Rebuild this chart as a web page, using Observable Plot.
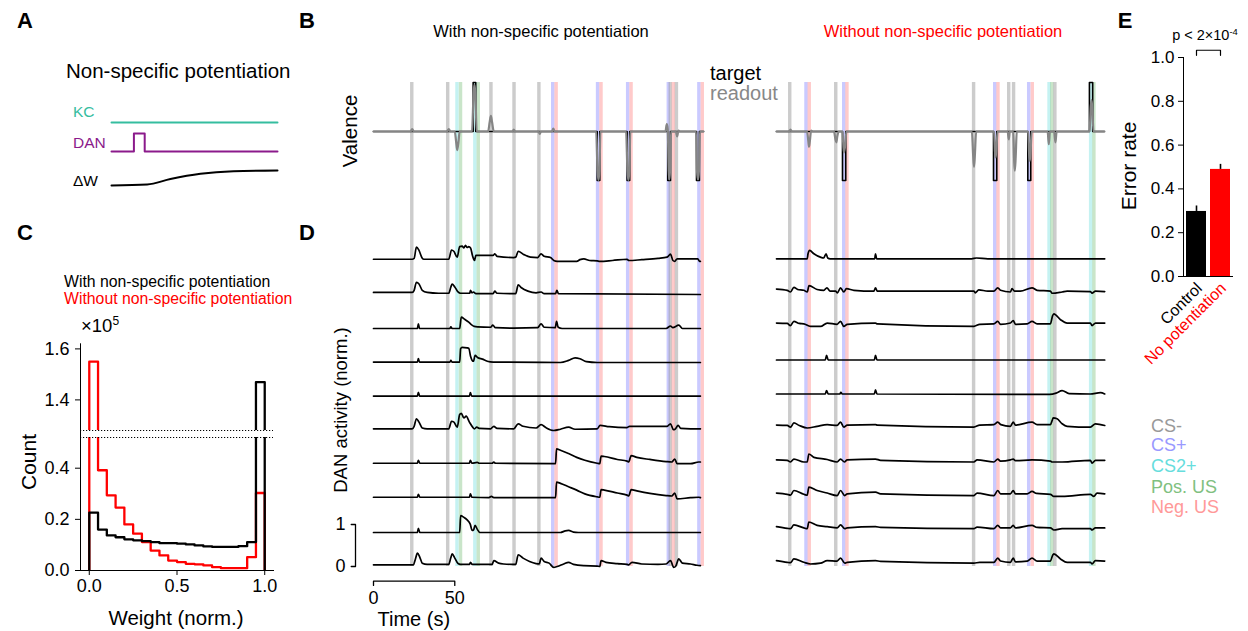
<!DOCTYPE html>
<html><head><meta charset="utf-8">
<script src="https://cdn.jsdelivr.net/npm/d3@7"></script>
<script src="https://cdn.jsdelivr.net/npm/@observablehq/plot@0.6"></script>
<style>
body{margin:0;background:#fff;}
#fig{position:relative;width:1248px;height:631px;overflow:hidden;background:#fff;font-family:"Liberation Sans",Arial,Helvetica,sans-serif;color:#000;}
.t{position:absolute;white-space:nowrap;line-height:1;}
.c{transform:translate(-50%,-50%);}
.l{transform:translate(0,-50%);}
.v{transform:translate(-50%,-50%) rotate(-90deg);}
sup{font-size:0.65em;vertical-align:0.55em;line-height:0;}
</style></head><body><div id="fig"></div><script>
// ---------------- DATA ----------------
// Panel A schematic (time 0..1, normalized)
const kcTrace = [[0,1],[1,1]];
const danTrace = [[0,0],[0.135,0],[0.135,1],[0.2,1],[0.2,0],[1,0]];
const dwTrace = [[0,0],[0.215,0.07],[0.355,0.43],[0.536,0.78],[0.735,0.95],[1,1]];

// Panel C histogram (counts x1e5), 20 bins of width 0.05
const binWidth = 0.05;
const countsWithout = [1.55,0.392,0.294,0.246,0.18,0.144,0.111,0.078,0.059,0.039,0.033,0.026,0.024,0.02,0.013,0.009,0.009,0.009,0.052,0.303];
const countsWith = [0.226,0.16,0.137,0.13,0.122,0.118,0.115,0.111,0.107,0.107,0.105,0.102,0.098,0.094,0.092,0.092,0.092,0.095,0.111,1.47];
const countTicksLow = [0,0.2,0.4];
const countTicksHigh = [1.4,1.6];
const weightTicks = [0,0.5,1];

// Panel E
const conditions = ["Control","No potentiation"];
const errorRates = [0.297,0.489];
const errorUpper = [0.322,0.512];
const errorTicks = [0,0.2,0.4,0.6,0.8,1.0];

// Stimuli [start time (s), type]
const stimDur = 2.1;
const stimLeft = [[22.8,"CS-"],[44.9,"CS-"],[50.6,"CS2+"],[52.8,"Pos. US"],[61.6,"CS2+"],[63.7,"Pos. US"],[71.5,"CS-"],[85.7,"CS-"],[101,"CS-"],[109.5,"CS+"],[111.6,"Neg. US"],[137.1,"CS+"],[139.2,"Neg. US"],[155.6,"CS+"],[157.7,"Neg. US"],[180.6,"CS+"],[181.8,"CS-"],[183.7,"Neg. US"],[185.6,"CS-"],[199.4,"CS+"],[201.5,"Neg. US"]];
const stimRight = [[7.4,"CS-"],[17.4,"CS+"],[19.4,"Neg. US"],[35.7,"CS-"],[40.6,"CS+"],[42.6,"Neg. US"],[120.5,"CS-"],[133.5,"CS+"],[135.5,"Neg. US"],[142.1,"CS-"],[145.1,"CS-"],[154.4,"CS+"],[156.6,"Neg. US"],[166.9,"CS2+"],[168.6,"Pos. US"],[170.5,"CS-"],[192.5,"CS2+"],[194.5,"Pos. US"]];
const stimTypes = ["CS-","CS+","CS2+","Pos. US","Neg. US"];

// Valence: target pulses [start, end, value]; readout keypoints [t, v]
const targetLeft = [[61.3,62.9,1],[137.6,139.2,-1],[156,157.6,-1],[181,182.7,-1],[198.7,200.5,-1]];
const targetRight = [[40.6,42.6,-1],[133.5,135.5,-1],[154.6,156.4,-1],[192.5,194.5,1]];
const readoutLeft = [[0,0],[22.8,0],[23.8,0.05],[24.8,0],[45.3,0],[46.3,0.05],[47.3,0],[50,0],[50.8,-0.2],[51.5,-0.38],[52.3,-0.2],[53,0],[60.6,0],[61.6,0.8],[62.1,0.95],[62.6,0.8],[63.5,0],[70.5,0],[71.5,0.2],[72.2,0.32],[72.9,0.2],[74,0],[85.5,0],[86.3,0.04],[87,0],[101.5,0],[102.3,-0.05],[103,0],[109.8,0],[110.6,0.06],[111.5,0],[137,0],[137.8,-0.8],[138.4,-0.99],[139,-0.8],[139.6,0],[155.4,0],[156.2,-0.8],[156.8,-0.99],[157.4,-0.8],[158,0],[179.6,0],[180.4,0.15],[181,0.05],[181.6,-0.8],[182,-0.98],[182.4,-0.8],[183,0],[186,0],[186.8,-0.1],[187.6,0.02],[188.4,0],[198.4,0],[199,-0.8],[199.6,-0.98],[200.2,-0.8],[200.8,0],[203,0]];
const readoutRight = [[0,0],[7.8,0],[8.6,0.04],[9.4,0],[18.8,0],[19.6,-0.2],[20,-0.31],[20.5,-0.2],[21.3,0.02],[22.5,0],[35.4,0],[36.2,-0.15],[36.8,-0.22],[37.4,-0.1],[38.2,0],[40.6,0],[41.4,-0.43],[42.2,-0.3],[43,0],[120.2,0],[121,-0.5],[121.5,-0.72],[122,-0.5],[122.8,0],[133.8,0],[134.4,-0.4],[134.8,-0.53],[135.3,-0.35],[136,0],[142.2,0],[142.9,-0.16],[143.5,0],[145.6,0],[146.2,-0.6],[146.6,-0.8],[147.1,-0.55],[147.8,0],[154.8,0],[155.4,-0.45],[155.8,-0.6],[156.3,-0.4],[157,0],[166.8,0],[167.5,-0.26],[168.2,0],[170.8,0],[171.6,-0.22],[172.3,0],[192.6,0],[193.3,0.5],[193.8,0.64],[194.3,0.45],[195,0],[201.7,0]];

// DAN activity traces (normalized), top to bottom, [t, v]
const danLeft0 = [[0,0.03],[23.8,0.03],[25,0.05],[26.4,0.32],[28,0.24],[29.9,0.06],[31,0.03],[46.3,0.03],[48,0.25],[49.4,0.22],[51.5,0.08],[53,0.33],[54.5,0.34],[55.6,0.3],[56.6,0.36],[57.6,0.31],[58.6,0.33],[59.7,0.3],[61,0.1],[62.1,0.0],[63,0.12],[64,0.12],[72,0.12],[73.6,0.12],[74.6,0.16],[76,0.1],[86.3,0.07],[87.5,0.08],[89,0.22],[92.5,0.14],[96.6,0.08],[101,0.07],[103.1,0.16],[105,0.1],[108.9,0.07],[110.9,0.0],[113,-0.02],[125,-0.02],[127,0.02],[129.4,0.04],[133,0.0],[137.6,-0.01],[139.2,-0.02],[147,0.0],[156,0.03],[157,0.0],[165,0.02],[175,0.05],[180.6,0.08],[182.7,0.15],[184.2,0.0],[185.3,-0.02],[186.8,0.04],[195,0.04],[199.5,0.04],[200.6,-0.02],[201.1,-0.02]];
const danLeft1 = [[0,0.05],[23.8,0.05],[25,0.1],[26.4,0.29],[28,0.25],[30,0.1],[33,0.05],[40,0.03],[46.3,0.03],[47.6,0.18],[48.4,0.25],[50,0.18],[52,0.06],[53.5,0.03],[59.2,0.03],[59.7,0.1],[60.5,0.04],[61.5,0.06],[63,0.02],[73.6,0.02],[74.6,0.08],[76,0.03],[87.5,0.02],[89,0.23],[91,0.16],[95,0.08],[100,0.04],[103.1,0.06],[105,0.02],[112,0.02],[112.8,0.1],[113.8,0.02],[201.1,0]];
const danLeft2 = [[0,0],[27,0],[27.6,0.11],[28.3,0],[47,0],[47.6,0.04],[48.3,0],[53,0],[54,0.27],[56,0.22],[58.6,0.15],[60,0.1],[62,0.05],[64,0.04],[72,0.03],[73.4,0.08],[75,0.02],[86.3,0.01],[101,0.02],[103.1,0.11],[105,0.03],[111.8,0.02],[112.6,0.17],[113.6,0.03],[116,0],[180,0],[182.7,0.06],[184,0.02],[187.8,0.08],[190,0],[201.1,0]];
const danLeft3 = [[0,0.01],[27,0.01],[27.6,0.09],[28.3,0.01],[47,0.01],[47.6,0.05],[48.3,0.01],[53,0.01],[53.6,0.33],[54.5,0.36],[57.6,0.35],[58.6,0.34],[59.7,0.15],[60.7,0.05],[61.5,0.03],[62.5,0.17],[64,0.12],[67,0.08],[70,0.03],[73.6,0.01],[115,0.0],[120,0.05],[124,0.11],[127,0.09],[131,0.02],[137.6,0.0],[201.1,0.0]];
const danLeft4 = [[0,0.01],[27,0.01],[27.6,0.1],[28.4,0.01],[59,0.01],[59.6,0.09],[60.4,0.01],[201.1,0.01]];
const danLeft5 = [[0,0.04],[23.8,0.04],[25,0.1],[26.4,0.28],[28,0.2],[30,0.06],[33,0.04],[46.3,0.04],[48,0.22],[49.5,0.2],[51.5,0.08],[53,0.38],[54,0.41],[55.6,0.3],[57,0.34],[59,0.2],[61,0.08],[62.1,0.04],[63.5,0.08],[65,0.05],[72,0.04],[74,0.1],[76,0.05],[86.3,0.04],[89,0.16],[92,0.1],[100,0.06],[103.1,0.14],[106,0.07],[110.9,0.0],[115,0.03],[120,0.08],[124,0.03],[137.6,0.04],[139.4,0.12],[145,0.09],[156,0.07],[157.5,0.1],[170,0.1],[180.6,0.1],[182.7,0.16],[184.5,0.02],[185.5,0.03],[187.4,0.12],[189,0.05],[195,0.04],[201.1,0.04]];
const danLeft6 = [[0,0.03],[27,0.03],[27.6,0.1],[28.5,0.03],[59,0.03],[59.6,0.1],[60.5,0.03],[63.8,0.05],[65,0.03],[73,0.03],[74,0.06],[75,0.03],[112,0.02],[112.6,0.37],[115,0.34],[120,0.26],[125,0.17],[130,0.1],[137.6,0.03],[139.2,0.02],[140,0.2],[142,0.19],[150,0.12],[156,0.08],[157,0.06],[158.5,0.21],[162,0.17],[170,0.12],[180,0.07],[183.5,0.06],[185.3,0.13],[186.8,0.02],[195,0.02],[200.1,0.06],[201.1,0.06]];
const danLeft7 = [[0,0.03],[27,0.03],[27.6,0.1],[28.5,0.03],[59,0.03],[59.6,0.11],[60.5,0.03],[71,0.02],[72.5,0.05],[74,0.02],[112,0.02],[112.6,0.39],[115,0.36],[120,0.28],[125,0.2],[130,0.11],[137.6,0.04],[139.2,0.03],[140,0.21],[142,0.2],[150,0.13],[156,0.08],[157,0.06],[158.5,0.21],[162,0.18],[170,0.12],[180,0.07],[183.5,0.06],[185.3,0.13],[186.8,-0.01],[195,0.02],[200.1,0.03],[201.1,0.02]];
const danLeft8 = [[0,0],[27,0],[27.6,0.1],[28.5,0],[53,0],[53.6,0.4],[55.6,0.36],[57.6,0.3],[59.5,0.2],[60.7,0.05],[61.5,0.06],[62.5,0.17],[63.8,0.08],[65.5,0],[115,0],[118,0.04],[120,0.05],[123,0.01],[126,0],[201.1,0]];
const danLeft9 = [[0,0.04],[24.5,0.04],[25.8,0.18],[27,0.32],[28.5,0.22],[30,0.08],[33,0.05],[46.3,0.05],[47.5,0.2],[48.4,0.3],[50,0.2],[52,0.07],[53.5,0.05],[59,0.05],[59.7,0.1],[60.7,0.05],[73,0.05],[74,0.14],[77,0.08],[80,0.06],[87.5,0.05],[89,0.28],[92,0.2],[96,0.12],[100,0.07],[102,0.06],[103.1,0.2],[105,0.12],[108,0.08],[110.9,-0.02],[113,0.0],[117,0.06],[120,0.1],[123,0.05],[129.4,0.02],[137.6,0.01],[139.2,0.0],[140,0.14],[143,0.1],[150,0.07],[156,0.05],[157,0.04],[159,0.1],[165,0.06],[175,0.05],[180,0.06],[182.7,0.14],[184.7,-0.02],[185.8,0.0],[187.8,0.18],[190,0.08],[195,0.06],[199,0.03],[201.1,0.02]];

const danRight0 = [[0,0.04],[18.9,0.04],[19.4,0.16],[20.4,0.24],[23,0.16],[27,0.08],[29,0.06],[30.5,0.16],[31.5,0.06],[33,0.04],[60.4,0.04],[60.9,0.16],[61.6,0.04],[120,0.04],[123,0.06],[130,0.04],[201.9,0.04]];
const danRight1 = [[0,0.13],[6.6,0.1],[8.6,0.06],[10.7,0.17],[13,0.12],[16.8,0.1],[18.9,0.06],[20,0.21],[25,0.12],[29.1,0.1],[31,0.16],[33,0.08],[36.3,0.08],[37.5,0.04],[39.4,0.16],[41.4,0.06],[43,0.14],[47.6,0.1],[59.9,0.08],[60.9,0.16],[62,0.08],[121.4,0.08],[122.4,0.04],[124.4,0.11],[130,0.08],[133.7,0.08],[136.1,0.16],[137.8,0.1],[143.9,0.06],[144.9,0.14],[146.4,0.08],[150,0.08],[157.2,0.16],[160.3,0.1],[168.5,0.08],[169.5,0.03],[175.7,0.06],[178.8,0.08],[193.1,0.07],[194.1,0.03],[196.2,0.08],[201.9,0.07]];
const danRight2 = [[0,0.13],[6.6,0.12],[8.6,0.07],[10.7,0.17],[14,0.12],[16.8,0.11],[20.9,0.05],[27.1,0.05],[31.2,0.13],[37.3,0.1],[39.4,0.17],[41.4,0.05],[43.5,0.1],[60.9,0.13],[62,0.11],[121.4,0.05],[125,0.1],[133.7,0.11],[136.1,0.17],[137.8,0.1],[143.9,0.13],[145.6,0.19],[147,0.1],[154.2,0.11],[157.2,0.17],[160.3,0.11],[168.5,0.11],[169.8,0.3],[170.6,0.35],[174.7,0.21],[178.8,0.13],[193.1,0.13],[194.1,0.07],[196.2,0.13],[201.9,0.13]];
const danRight3 = [[0,0.06],[30,0.06],[30.8,0.17],[31.8,0.06],[60.2,0.06],[60.9,0.17],[61.8,0.06],[201.9,0.06]];
const danRight4 = [[0,0.06],[30,0.06],[30.8,0.14],[31.8,0.06],[39,0.06],[39.6,0.1],[40.4,0.06],[60.2,0.06],[60.9,0.16],[61.8,0.06],[168,0.05],[172,0.08],[175.7,0.14],[180,0.07],[193,0.06],[199.3,0.09],[201.9,0.06]];
const danRight5 = [[0,0.13],[6.6,0.12],[8.6,0.08],[10.7,0.18],[14,0.12],[18.9,0.06],[25,0.1],[31.2,0.14],[37.3,0.12],[39.4,0.2],[41.4,0.08],[43.5,0.13],[60.9,0.14],[62,0.13],[121.4,0.08],[125,0.13],[133.7,0.14],[136.1,0.2],[138,0.14],[143.9,0.1],[145.6,0.2],[147,0.13],[157.2,0.2],[160.3,0.14],[168.5,0.14],[169.6,0.24],[170.2,0.3],[172.6,0.28],[175.7,0.16],[178.8,0.1],[193.1,0.08],[196.2,0.16],[201.9,0.12]];
const danRight6 = [[0,0.11],[6.6,0.1],[8.6,0.06],[10.7,0.13],[16.8,0.06],[18.9,0.06],[19.9,0.25],[23,0.17],[31.2,0.12],[37.3,0.06],[39.4,0.13],[41.8,0.06],[43.5,0.11],[60.9,0.13],[64,0.1],[121.4,0.06],[123.4,0.11],[133.7,0.06],[136.1,0.13],[137.8,0.08],[143.9,0.11],[145.6,0.13],[147,0.09],[157.2,0.11],[168.5,0.08],[169.5,0.06],[175.7,0.06],[193.1,0.1],[194.1,0.03],[196.2,0.1],[201.9,0.1]];
const danRight7 = [[0,0.13],[6.6,0.1],[8.6,0.08],[10.7,0.19],[16.8,0.1],[18.9,0.08],[19.9,0.27],[25,0.19],[31.2,0.13],[37.3,0.07],[39.4,0.19],[42,0.07],[43.5,0.11],[60.9,0.15],[64,0.11],[121.4,0.07],[123.4,0.13],[133.7,0.07],[136.1,0.19],[137.8,0.11],[143.9,0.11],[145.6,0.19],[147,0.11],[154.2,0.11],[157.2,0.17],[160,0.12],[168.5,0.1],[170.6,0.05],[175.7,0.05],[193.1,0.1],[195.2,0.05],[197.2,0.13],[201.9,0.11]];
const danRight8 = [[0,0.14],[6.6,0.1],[8.6,0.09],[10.7,0.18],[16.8,0.11],[18.9,0.09],[19.9,0.25],[25,0.17],[31.2,0.14],[37.3,0.11],[39.4,0.18],[42,0.09],[43.5,0.11],[60.9,0.14],[64,0.12],[121.4,0.09],[123.4,0.13],[133.7,0.09],[136.1,0.17],[137.8,0.11],[143.9,0.11],[145.6,0.17],[147,0.11],[157.2,0.17],[160.3,0.12],[168.5,0.11],[170.6,0.06],[175.7,0.09],[193.1,0.09],[194.1,0.06],[196.2,0.11],[201.9,0.11]];
const danRight9 = [[0,0.14],[6.6,0.1],[8.6,0.09],[10.7,0.18],[16.8,0.1],[20.9,0.06],[27.1,0.08],[31.2,0.14],[37.3,0.13],[39.4,0.2],[42,0.08],[43.5,0.1],[60.9,0.14],[64,0.12],[121.4,0.08],[125,0.1],[133.7,0.1],[136.1,0.2],[137.8,0.13],[143.9,0.1],[145.6,0.2],[147,0.11],[154.2,0.13],[157.2,0.2],[160.3,0.13],[168.5,0.13],[169.8,0.26],[170.6,0.3],[174.7,0.18],[178.8,0.1],[193.1,0.1],[194.1,0.06],[196.2,0.14],[201.9,0.13]];

const danLeft = [danLeft0,danLeft1,danLeft2,danLeft3,danLeft4,danLeft5,danLeft6,danLeft7,danLeft8,danLeft9];
const danRight = [danRight0,danRight1,danRight2,danRight3,danRight4,danRight5,danRight6,danRight7,danRight8,danRight9];
const scaleBarValues = [0,1];
const timeBarValues = [0,50];

// ---------------- STYLES ----------------
const FONT = "'Liberation Sans', Arial, Helvetica, sans-serif";
const stimFill = {"CS-":"rgba(153,153,153,0.5)","CS+":"rgba(150,150,255,0.5)","CS2+":"rgba(102,221,221,0.38)","Pos. US":"rgba(120,190,120,0.4)","Neg. US":"rgba(255,150,150,0.5)"};
const stimText = {"CS-":"#999999","CS+":"#9999ff","CS2+":"#66dddd","Pos. US":"#80c080","Neg. US":"#ff9999"};
const laneStep = 34/42;

const fig = document.getElementById("fig");
function txt(s, x, y, cls, size, color, weight) {
  const d = document.createElement("div");
  d.className = "t " + cls; d.innerHTML = s;
  d.style.left = x + "px"; d.style.top = y + "px"; d.style.fontSize = size + "px";
  if (color) d.style.color = color;
  if (weight) d.style.fontWeight = weight;
  fig.appendChild(d);
}
function place(p, x, y) { p.style.position = "absolute"; p.style.left = x + "px"; p.style.top = y + "px"; fig.appendChild(p); }
function st(size) { return `background: transparent; overflow: visible; font-family: ${FONT}; font-size: ${size}px;`; }

// ---------------- PANEL A ----------------
{
  const kc = kcTrace.map(([t, v]) => ({t, y: 0.85 + 0 * v}));
  const dan = danTrace.map(([t, v]) => ({t, y: 0.4875 + 0.225 * v}));
  const dw = dwTrace.map(([t, v]) => ({t, y: 0.0625 + 0.1875 * v}));
  const p = Plot.plot({
    width: 166, height: 80, margin: 0, style: st(14),
    x: {domain: [0,1], axis: null}, y: {domain: [0,1], axis: null},
    marks: [
      Plot.line(kc, {x: "t", y: "y", stroke: "#35bd9f", strokeWidth: 2}),
      Plot.line(dan, {x: "t", y: "y", stroke: "#8b1a8b", strokeWidth: 2}),
      Plot.line(dw, {x: "t", y: "y", stroke: "black", strokeWidth: 2, curve: "monotone-x"})
    ]
  });
  place(p, 111, 110);
  txt("Non-specific potentiation", 66, 71, "l", 20.5);
  txt("KC", 73, 112, "l", 15.5, "#35bd9f");
  txt("DAN", 73, 143, "l", 15.5, "#8b1a8b");
  txt("ΔW", 73, 181, "l", 15.5);
}

// ---------------- PANEL C (broken y axis: two stacked plots) ----------------
{
  function steps(counts) {
    const pts = [{x: 0, y: 0}];
    counts.forEach((c, i) => { pts.push({x: i*binWidth, y: c}); pts.push({x: (i+1)*binWidth, y: c}); });
    pts.push({x: counts.length*binWidth, y: 0});
    return pts;
  }
  const histMarks = () => [
    Plot.line(steps(countsWithout), {x: "x", y: "y", stroke: "#ff0000", strokeWidth: 2.3, clip: true}),
    Plot.line(steps(countsWith), {x: "x", y: "y", stroke: "black", strokeWidth: 2.3, clip: true})
  ];
  const xOpt = {domain: [-0.05, 1.05], ticks: weightTicks, tickFormat: d3.format(".1f"), line: true, tickSize: 5, tickPadding: 4, label: null};
  const low = Plot.plot({
    width: 300, height: 194, marginLeft: 80, marginRight: 27, marginTop: 0, marginBottom: 61,
    style: st(18),
    x: xOpt,
    y: {domain: [0, 0.52], ticks: countTicksLow, tickFormat: d3.format(".1f"), line: true, tickSize: 5, tickPadding: 6, label: null},
    marks: [...histMarks(), Plot.ruleY([0.52], {stroke: "black", strokeWidth: 1.2, strokeDasharray: "1.2,1.8"})]
  });
  const high = Plot.plot({
    width: 300, height: 110, marginLeft: 80, marginRight: 27, marginTop: 23.3, marginBottom: 0,
    style: st(18),
    x: {domain: [-0.05, 1.05], axis: null},
    y: {domain: [1.28, 1.62], ticks: countTicksHigh, tickFormat: d3.format(".1f"), line: true, tickSize: 5, tickPadding: 6, label: null},
    marks: [
      ...histMarks(),
      Plot.ruleY([1.28], {stroke: "black", strokeWidth: 1.2, strokeDasharray: "1.2,1.8"}),
      Plot.ruleX([-0.05], {y1: 1.28, y2: 1.28 - 7/255, stroke: "black"})
    ]
  });
  place(low, 0, 437);
  place(high, 0, 320);
  txt("With non-specific potentiation", 64, 282, "l", 15.8);
  txt("Without non-specific potentiation", 64, 298.5, "l", 15.8, "#ff0000");
  txt("×10<sup>5</sup>", 81, 326, "l", 18.5);
  txt("Count", 28, 462, "v", 21);
  txt("Weight (norm.)", 176, 618, "c", 20.5);
}

// ---------------- PANEL E ----------------
{
  const eRows = conditions.map((c, i) => ({c, v: errorRates[i], hi: errorUpper[i], col: i === 0 ? "#000000" : "#ff0000"}));
  const bracket = [{c: conditions[0], v: 1.01}, {c: conditions[0], v: 1.033}, {c: conditions[1], v: 1.033}, {c: conditions[1], v: 1.01}];
  const p = Plot.plot({
    width: 148, height: 360, marginLeft: 83, marginRight: 15, marginTop: 57, marginBottom: 84,
    style: st(17),
    color: {type: "identity"},
    x: {type: "band", domain: conditions, paddingInner: 0.167, paddingOuter: 0.125, axis: null},
    y: {domain: [0, 1], ticks: errorTicks, tickFormat: d3.format(".1f"), line: true, tickSize: 5, tickPadding: 4, label: null},
    marks: [
      Plot.barY(eRows, {x: "c", y: "v", fill: "col"}),
      Plot.ruleX(eRows, {x: "c", y1: "v", y2: "hi", stroke: "black", strokeWidth: 1.6}),
      Plot.ruleY([0], {stroke: "black", strokeWidth: 1.2}),
      Plot.line(bracket, {x: "c", y: "v", stroke: "black", strokeWidth: 1.2}),
      Plot.text(eRows, {x: "c", y: 0, text: "c", fill: "col", rotate: -45, textAnchor: "end", dx: 3, dy: 9, fontSize: 16})
    ]
  });
  place(p, 1100, 0);
  txt("Error rate", 1128, 166, "v", 21);
  txt("p &lt; 2×10<sup>-4</sup>", 1205, 35, "c", 14.5);
}

// ---------------- PANELS B & D ----------------
function blockPlot(stim, traces, withScale) {
  const rows = [];
  traces.forEach((tr, i) => tr.forEach(([t, v]) => rows.push({t, y: v + (9 - i) * laneStep, k: i})));
  const marks = [
    Plot.rect(stim, {x1: d => d[0], x2: d => d[0] + stimDur, fill: d => stimFill[d[1]]}),
    Plot.line(rows, {x: "t", y: "y", z: "k", stroke: "black", strokeWidth: 1.7, curve: "monotone-x"})
  ];
  if (withScale) {
    const [s0, s1] = scaleBarValues, [t0, t1] = timeBarValues;
    const vBar = [{t: -13.7, y: s0}, {t: -11.07, y: s0}, {t: -11.07, y: s1}, {t: -13.7, y: s1}];
    const hBar = [{t: t0, y: -0.45}, {t: t0, y: -0.35}, {t: t1, y: -0.35}, {t: t1, y: -0.45}];
    marks.push(
      Plot.line(vBar, {x: "t", y: "y", stroke: "black", strokeWidth: 1.3}),
      Plot.line(hBar, {x: "t", y: "y", stroke: "black", strokeWidth: 1.3}),
      Plot.text(scaleBarValues, {x: -20.3, y: d => d, text: d => String(d), fontSize: 18}),
      Plot.text(timeBarValues, {x: d => d, y: -0.76, text: d => String(d), fontSize: 18}),
      Plot.text(["Time (s)"], {x: 24.8, y: -1.26, text: d => d, fontSize: 20})
    );
  }
  return Plot.plot({
    width: 330, height: 484, margin: 0, style: st(14),
    color: {type: "identity"},
    x: {domain: [0, 203], axis: null},
    y: {domain: [0, 484/42], axis: null},
    marks
  });
}
function valencePlot(pulses, readout, end) {
  const tgt = [{t: 0, v: 0}];
  pulses.forEach(([a, b, v]) => tgt.push({t: a, v: 0}, {t: a, v}, {t: b, v}, {t: b, v: 0}));
  tgt.push({t: end, v: 0});
  return Plot.plot({
    width: 330, height: 98, margin: 0, style: st(14),
    x: {domain: [0, 203], axis: null},
    y: {domain: [-1, 1], axis: null},
    marks: [
      Plot.line(tgt, {x: "t", y: "v", stroke: "black", strokeWidth: 1.6}),
      Plot.line(readout, {x: d => d[0], y: d => d[1], stroke: "#858585", strokeWidth: 2.2, curve: "monotone-x"})
    ]
  });
}
place(blockPlot(stimLeft, danLeft, true), 373, 82);
place(blockPlot(stimRight, danRight, false), 776, 82);
place(valencePlot(targetLeft, readoutLeft, 203), 373, 82);
place(valencePlot(targetRight, readoutRight, 201.7), 776, 82);

txt("With non-specific potentiation", 541, 31, "c", 16.5);
txt("Without non-specific potentiation", 943, 31, "c", 16.5, "#ff0000");
txt("target", 710, 73, "l", 20);
txt("readout", 710, 93, "l", 20, "#888888");
txt("Valence", 350, 131, "v", 20.5);
txt("DAN activity (norm.)", 341, 410, "v", 18.5);

// Legend
stimTypes.forEach((s, i) => txt(s, 1151, [426, 445, 466, 487, 507][i], "l", 18, stimText[s]));

// Panel letters
txt("A", 25, 21, "c", 22, null, "bold");
txt("B", 307, 21, "c", 22, null, "bold");
txt("C", 25, 233, "c", 22, null, "bold");
txt("D", 307, 233, "c", 22, null, "bold");
txt("E", 1125, 21, "c", 22, null, "bold");
</script></body></html>
